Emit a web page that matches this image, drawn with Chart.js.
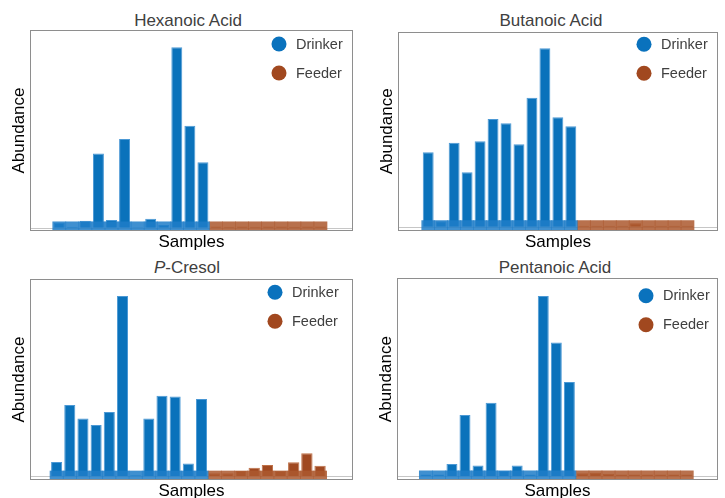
<!DOCTYPE html>
<html>
<head>
<meta charset="utf-8">
<script src="https://cdn.jsdelivr.net/npm/chart.js@4.4.1/dist/chart.umd.min.js"></script>
<style>
  html, body { margin: 0; padding: 0; background: #fff; overflow: hidden; }
  body { width: 725px; height: 498px; position: relative; font-family: "Liberation Sans", Arial, Helvetica, sans-serif; }
  canvas { position: absolute; }
  .ptitle { position: absolute; font-size: 17px; line-height: 17px; color: #404040; white-space: nowrap; transform: translateX(-50%); }
</style>
</head>
<body>
<div class="ptitle" style="left:188px;top:12px">Hexanoic Acid</div>
<div class="ptitle" style="left:551px;top:12px">Butanoic Acid</div>
<div class="ptitle" style="left:187px;top:259px"><i>P</i>-Cresol</div>
<div class="ptitle" style="left:555px;top:259px">Pentanoic Acid</div>

<canvas id="c-hex" width="362" height="256" style="left:0;top:0"></canvas>
<canvas id="c-but" width="363" height="256" style="left:362px;top:0"></canvas>
<canvas id="c-cre" width="362" height="256" style="left:0;top:250px"></canvas>
<canvas id="c-pen" width="363" height="256" style="left:362px;top:250px"></canvas>

<script>
// === Data (abundance normalised so the tallest bar in each panel = 100) ===
var sampleIds = [1, 2, 3, 4, 5, 6, 7, 8, 9, 10, 11, 12, 13, 14, 15, 16, 17, 18, 19, 20, 21];
var legendNames = ['Drinker', 'Feeder'];
var legendColors = ['#0A72BD', '#A1481F'];

var hexDrinker = [2.8, 0.6, 3.9, 41.2, 4.3, 49.2, 0.3, 5.0, 1.5, 100, 56.5, 36.3];
var hexFeeder  = [0.7, 0.6, 0.7, 0.6, 0.7, 0.7, 0.6, 0.7, 0.7];
var hexBand    = [-1.8, 3.3];

var butDrinker = [41.7, 3.0, 47.1, 30.5, 47.9, 60.4, 58.0, 46.2, 72.3, 100, 61.3, 56.3];
var butFeeder  = [0.6, 0.6, 0.6, 0.6, 1.9, 0.6, 0.6, 0.6, 0.6];
var butBand    = [-2.4, 3.4];

var creDrinker = [7.8, 39.4, 32.0, 28.3, 35.6, 100, 0.5, 32.0, 44.6, 44.1, 6.9, 42.8];
var creFeeder  = [1.6, 1.6, 2.8, 4.6, 6.1, 2.9, 7.6, 12.6, 5.7];
var creBand    = [-2.2, 2.8];

var penDrinker = [0.9, 0.9, 6.7, 33.9, 5.9, 40.7, 2.8, 5.9, 0.9, 100, 74.1, 52.2];
var penFeeder  = [1.5, 1.8, 1.3, 0.8, 0.8, 0.8, 0.8, 0.8, 0.8];
var penBand    = [-2.2, 2.9];

var FONT = '"Liberation Sans", Arial, Helvetica, sans-serif';

// box, zero line and the in-plot legend
var framePlugin = {
  id: 'frame',
  beforeDatasetsDraw: function(chart) {
    var a = chart.chartArea, ctx = chart.ctx;
    var y0 = Math.round(chart.scales.y.getPixelForValue(0)) + 0.5;
    ctx.save();
    ctx.strokeStyle = '#c6c6c6';
    ctx.lineWidth = 1;
    ctx.beginPath();
    ctx.moveTo(a.left, y0);
    ctx.lineTo(a.right, y0);
    ctx.stroke();
    ctx.restore();
  },
  afterDraw: function(chart, args, opts) {
    var a = chart.chartArea, ctx = chart.ctx;
    ctx.save();
    ctx.strokeStyle = '#8e8e8e';
    ctx.lineWidth = 1;
    ctx.strokeRect(Math.round(a.left) + 0.5, Math.round(a.top) + 0.5,
      Math.round(a.right - a.left) - 1, Math.round(a.bottom - a.top) - 1);
    ctx.font = '14.5px ' + FONT;
    ctx.textBaseline = 'middle';
    legendNames.forEach(function(name, i) {
      var cx = a.right - opts.dx, cy = a.top + opts.dy + i * 29;
      ctx.fillStyle = legendColors[i];
      ctx.beginPath();
      ctx.arc(cx, cy, 7.5, 0, Math.PI * 2);
      ctx.fill();
      ctx.fillStyle = '#404040';
      ctx.fillText(name, cx + 17, cy + 0.5);
    });
    ctx.restore();
  }
};

function points(values, offset) {
  return values.map(function(v, i) { return { x: sampleIds[offset + i], y: v }; });
}

function makePanel(id, drinker, feeder, band, cfg) {
  var nd = drinker.length;
  var ctx = document.getElementById(id).getContext('2d');
  new Chart(ctx, {
    type: 'bar',
    data: {
      datasets: [{
        label: 'Drinker',
        data: points(drinker, 0),
        backgroundColor: '#0A72BB',
        borderColor: '#4C99D5',
        borderWidth: 1,
        barPercentage: 0.84,
        categoryPercentage: 1,
        grouped: false,
        order: 2
      }, {
        label: 'Feeder',
        data: points(feeder, nd),
        backgroundColor: '#A04921',
        borderColor: '#BF7148',
        borderWidth: 1,
        barPercentage: 0.86,
        categoryPercentage: 1,
        grouped: false,
        order: 2
      }, {
        label: 'Drinker range',
        data: points(drinker.map(function() { return band.slice(); }), 0),
        backgroundColor: 'rgba(30,125,200,0.85)',
        borderWidth: 0,
        barPercentage: 1,
        categoryPercentage: 1,
        grouped: false,
        order: 1
      }, {
        label: 'Feeder range',
        data: points(feeder.map(function() { return band.slice(); }), nd),
        backgroundColor: 'rgba(172,88,46,0.85)',
        borderWidth: 0,
        barPercentage: 1,
        categoryPercentage: 1,
        grouped: false,
        order: 1
      }]
    },
    options: {
      responsive: false,
      animation: false,
      layout: { padding: cfg.pad },
      plugins: {
        legend: { display: false },
        tooltip: { enabled: false },
        frame: { dx: cfg.legend[0], dy: cfg.legend[1] }
      },
      scales: {
        x: {
          type: 'linear',
          offset: false,
          min: cfg.x[0],
          max: cfg.x[1],
          ticks: { display: false },
          grid: { display: false, drawTicks: false },
          border: { display: false },
          title: { display: true, text: 'Samples', color: '#000', font: { size: 17, family: FONT }, padding: { top: 1, bottom: 0 } }
        },
        y: {
          min: band[0],
          max: cfg.yMax,
          ticks: { display: false },
          grid: { display: false, drawTicks: false },
          border: { display: false },
          title: { display: true, text: 'Abundance', color: '#000', font: { size: 17, family: FONT }, padding: { top: 2, bottom: 0 } }
        }
      }
    },
    plugins: [framePlugin]
  });
}

makePanel('c-hex', hexDrinker, hexFeeder, hexBand, {
  x: [-1.24, 23.49], yMax: 109.6, legend: [74, 14],
  pad: { left: 7.6, top: 30, right: 9, bottom: 3.6 }
});
makePanel('c-but', butDrinker, butFeeder, butBand, {
  x: [-1.33, 23.35], yMax: 109.3, legend: [74, 12.5],
  pad: { left: 13.6, top: 31.7, right: 7, bottom: 3.6 }
});
makePanel('c-cre', creDrinker, creFeeder, creBand, {
  x: [-1.02, 23.5], yMax: 109.4, legend: [78, 13.3],
  pad: { left: 7.6, top: 29, right: 9, bottom: 4.6 }
});
makePanel('c-pen', penDrinker, penFeeder, penBand, {
  x: [-1.21, 23.39], yMax: 109.8, legend: [72, 17.4],
  pad: { left: 12.6, top: 28.3, right: 7, bottom: 4.6 }
});
</script>
</body>
</html>
